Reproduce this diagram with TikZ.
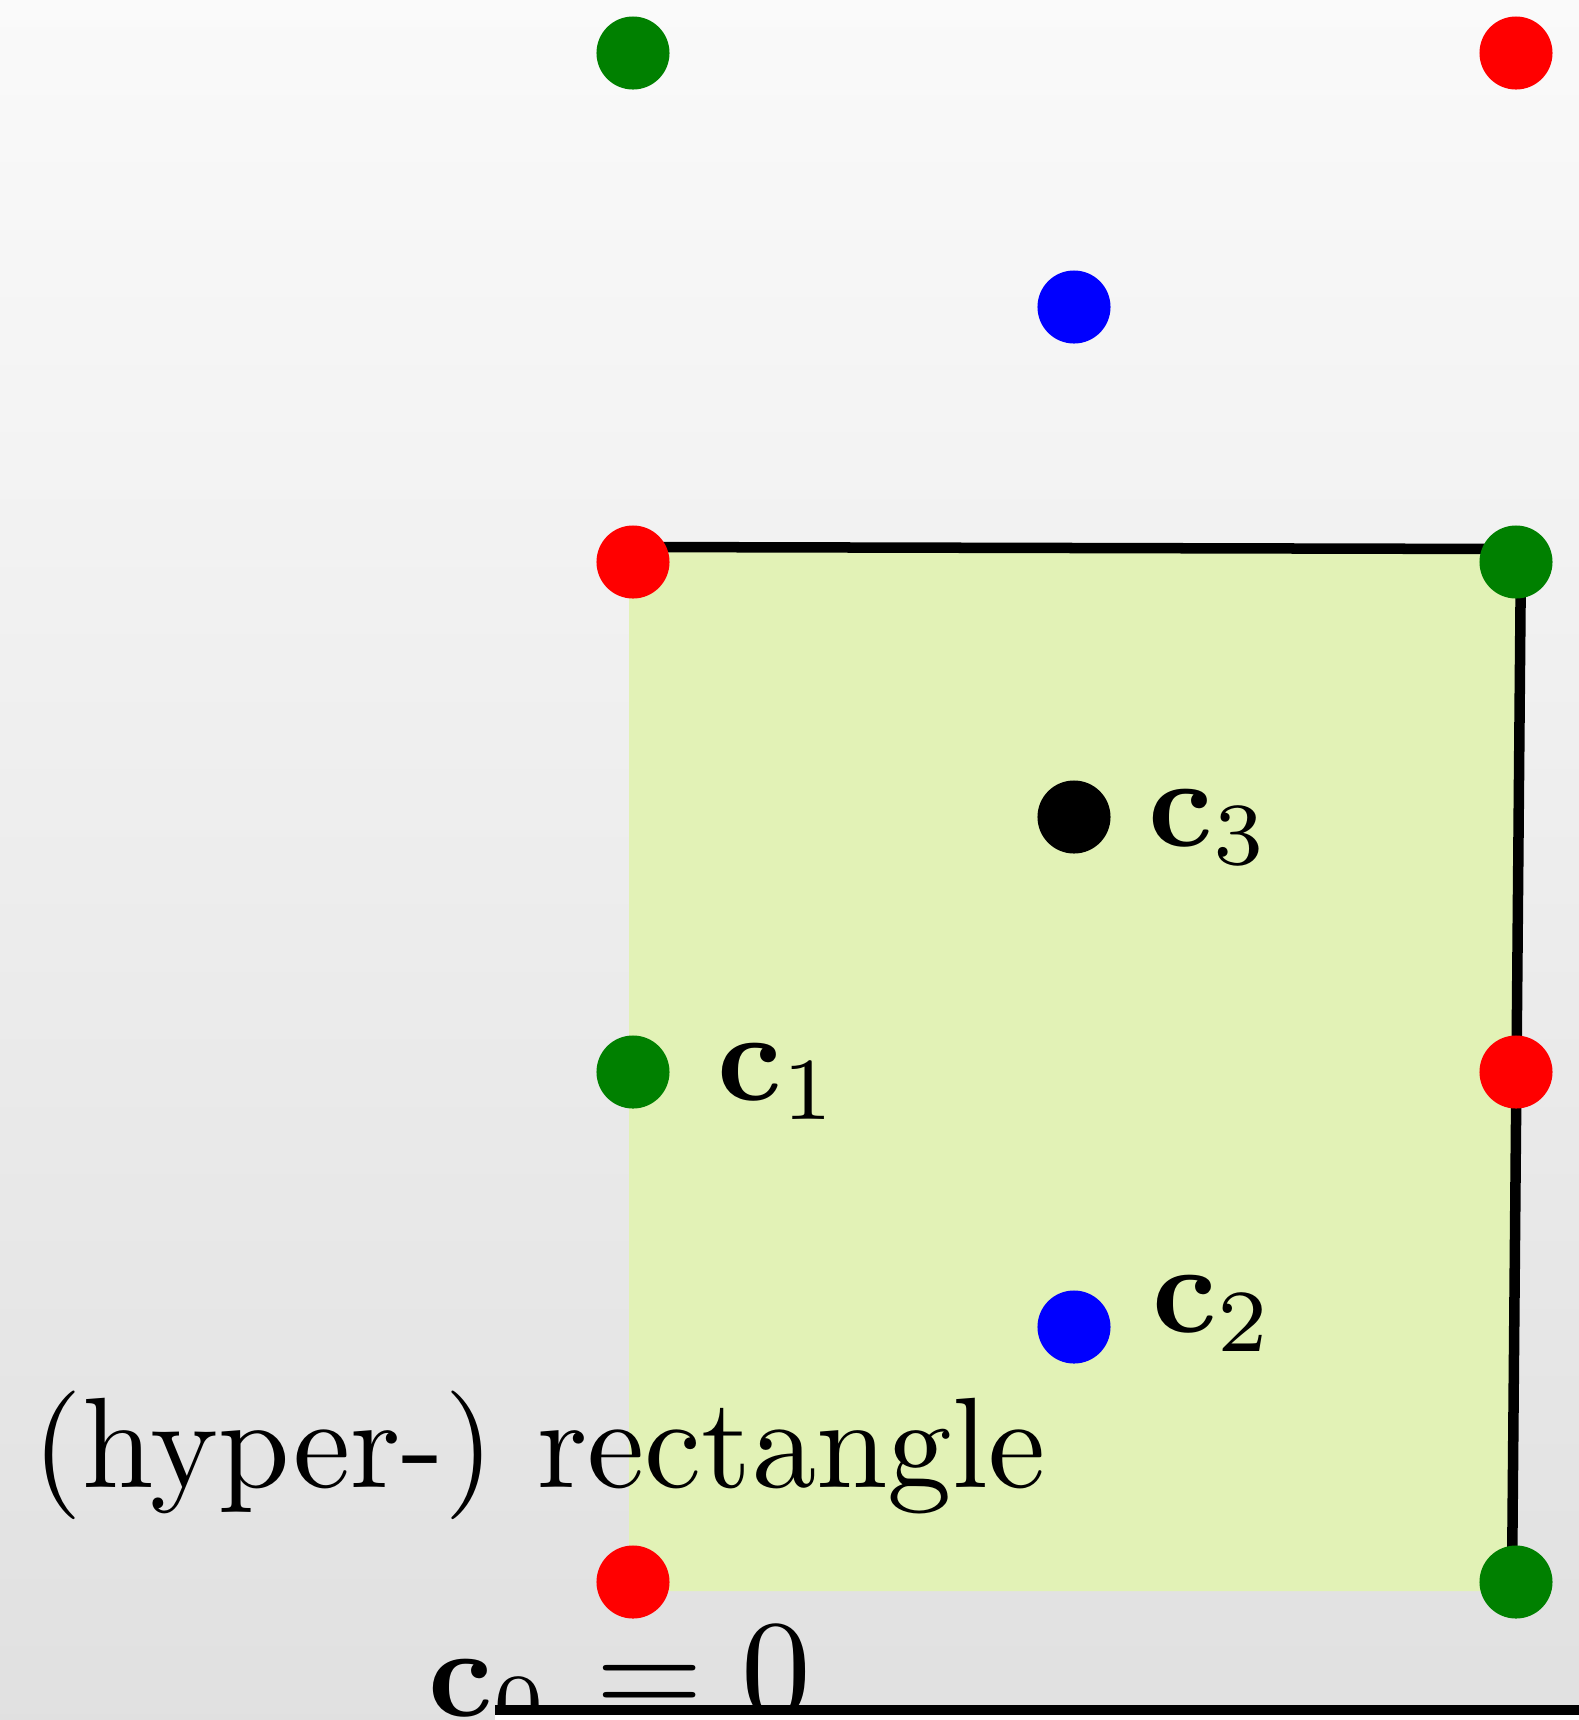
\documentclass[tikz,border=0pt]{standalone}
\usepackage{graphicx}
\DeclareMathSizes{10}{10}{7.5}{5}
\definecolor{rectfill}{RGB}{226,242,182}
\definecolor{dotgreen}{RGB}{0,128,0}
\newcommand{\bigtext}[1]{\scalebox{3.6}{#1}}
\begin{document}
\begin{tikzpicture}[x=0.01cm,y=-0.01cm,
  dot/.style={circle,fill=#1,draw=none,inner sep=0pt,minimum size=0.73cm},
  lbl/.style={inner sep=0pt,anchor=base west},
  edgeline/.style={line width=0.105cm}]
\useasboundingbox (0,0) rectangle (1579,1720);
\shade[top color=black!2,bottom color=black!12] (0,0) rectangle (1579,1720);
% filled (hyper-) rectangle
\coordinate (tl) at (633,547);
\coordinate (tr) at (1521,549);
\coordinate (br) at (1512,1584);
\fill[rectfill] (629,547) -- (tr) -- (1512,1591) -- (629,1591) -- cycle;
\draw[edgeline] (tl) -- (tr) -- (br);
% texts
\node[lbl] (hyp) at (32,1487) {\scalebox{3.66}{(hyper-) rectangle}};
\node[lbl] (c0) at (428,1716) {\bigtext{$\mathbf{c}_0$\kern0.5pt\scalebox{1.1}{$\mathord{}=0$}}};
\node[lbl] (c1) at (717,1100) {\bigtext{$\mathbf{c}_1$}};
\node[lbl] (c3) at (1148,846) {\bigtext{$\mathbf{c}_3$}};
\node[lbl] (c2) at (1152,1332) {\bigtext{$\mathbf{c}_2$}};
% bottom edge of next shape
\fill[white] (495,1710) rectangle (1579,1725);
\coordinate (bl0) at (495,1710);
\coordinate (br0) at (1579,1710);
\draw[edgeline] (bl0) -- (br0);
% dots
\node[dot=dotgreen] (g1) at (633,53) {};
\node[dot=red] (r1) at (1516,53) {};
\node[dot=blue] (b1) at (1074,307) {};
\node[dot=red] (r2) at (633,562) {};
\node[dot=dotgreen] (g2) at (1516,562) {};
\node[dot=black] (k3) at (1074,817) {};
\node[dot=dotgreen] (g3) at (633,1072) {};
\node[dot=red] (r3) at (1516,1072) {};
\node[dot=blue] (b2) at (1074,1327) {};
\node[dot=red] (r4) at (633,1582) {};
\node[dot=dotgreen] (g4) at (1516,1582) {};
\end{tikzpicture}
\end{document}
